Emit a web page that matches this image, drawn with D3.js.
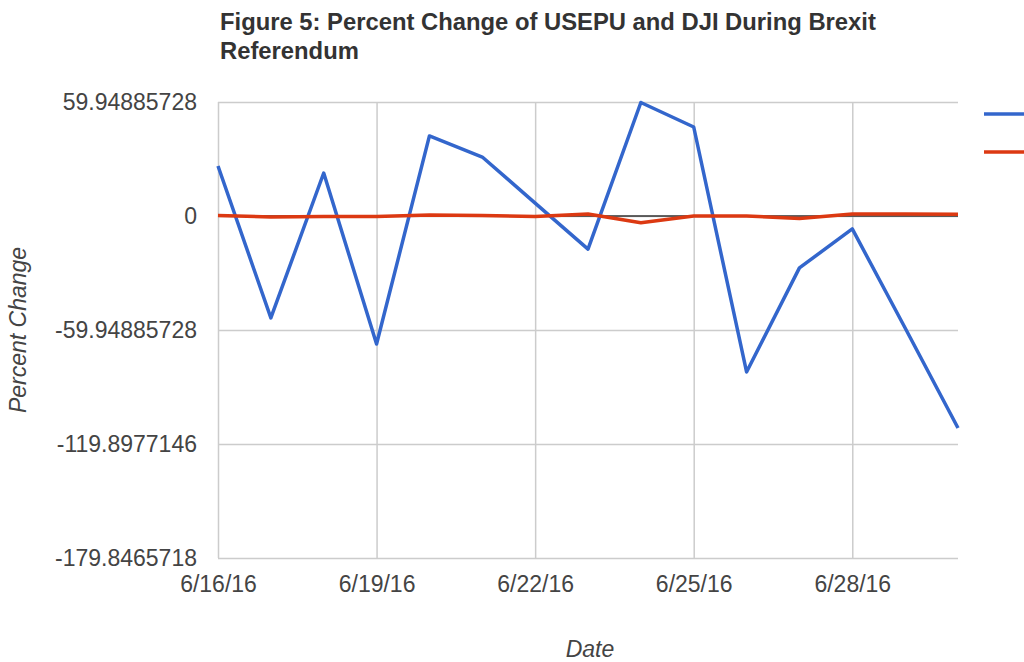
<html lang="en">

<head>
  <meta charset="utf-8">
  <title>Figure 5</title>
  <script type="text/javascript" src="https://d3js.org/d3.v7.min.js"></script>
  <style>
    body { margin: 0; background: #fff; }
    text { font-family: "Liberation Sans", Arial, sans-serif; }
  </style>
</head>

<body>
  <script type="text/javascript">
    const dates = ["6/16/16", "6/17/16", "6/18/16", "6/19/16", "6/20/16", "6/21/16", "6/22/16", "6/23/16",
      "6/24/16", "6/25/16", "6/26/16", "6/27/16", "6/28/16", "6/29/16", "6/30/16"];
    const usepu = [26.3, -53.6, 22.6, -67.3, 42.1, 31.0, 6.8, -17.4, 59.7, 46.8, -82.0, -27.3, -6.8, -58.9, -111.5];
    const dji = [0.3, -0.5, -0.3, -0.3, 0.5, 0.3, -0.3, 1.0, -3.6, 0.0, 0.0, -1.3, 1.0, 1.0, 0.9];
    const yTicks = [59.94885728, 0, -59.94885728, -119.8977146, -179.8465718];
    const xTickLabels = ["6/16/16", "6/19/16", "6/22/16", "6/25/16", "6/28/16"];
    const seriesNames = ["USEPU", "DJI"];
    const colors = ["#3366cc", "#dc3912"];

    const width = 1024;
    const height = 662;
    const plotLeft = 218, plotRight = 958, plotTop = 102, plotBottom = 558;

    const parse = d3.timeParse("%m/%d/%y");
    const svg = d3.select("body").append("svg").attr("width", width).attr("height", height);

    const x = d3.scaleTime()
      .domain([parse(dates[0]), parse(dates[dates.length - 1])])
      .range([plotLeft, plotRight]);
    const y = d3.scaleLinear()
      .domain([yTicks[yTicks.length - 1], yTicks[0]])
      .range([plotBottom, plotTop]);

    // horizontal grid + y labels
    const gY = svg.append("g")
      .attr("transform", `translate(${plotLeft},0)`)
      .call(d3.axisLeft(y).tickValues(yTicks).tickSize(-(plotRight - plotLeft)).tickPadding(21)
        .tickFormat(d => d === 0 ? "0" : String(d)));
    gY.select(".domain").remove();
    gY.selectAll("line").attr("stroke", "#cccccc").attr("stroke-width", 1.5);
    gY.selectAll("text").attr("fill", "#444").style("font-size", "23px");

    // vertical grid + x labels
    const gX = svg.append("g")
      .attr("transform", `translate(0,${plotBottom})`)
      .call(d3.axisBottom(x).tickValues(xTickLabels.map(parse)).tickSize(-(plotBottom - plotTop)).tickPadding(18)
        .tickFormat(d3.timeFormat("%-m/%-d/%y")));
    gX.select(".domain").remove();
    gX.selectAll("line").attr("stroke", "#cccccc").attr("stroke-width", 1.5);
    gX.selectAll("text").attr("fill", "#444").style("font-size", "23px");

    // zero baseline
    svg.append("line")
      .attr("x1", plotLeft).attr("x2", plotRight)
      .attr("y1", y(0)).attr("y2", y(0))
      .attr("stroke", "#333").attr("stroke-width", 1.5);

    const line = d3.line()
      .x((d, i) => x(parse(dates[i])))
      .y(d => y(d));

    [usepu, dji].forEach((s, k) => {
      svg.append("path")
        .datum(s)
        .attr("fill", "none")
        .attr("stroke", colors[k])
        .attr("stroke-width", 3.5)
        .attr("stroke-linejoin", "round")
        .attr("d", line);
    });

    // legend keys; the series names sit past the right edge of the page, as in the original
    seriesNames.forEach((name, k) => {
      const ly = 114 + k * 38;
      svg.append("line")
        .attr("class", "legend-" + name)
        .attr("x1", 984).attr("x2", 1030)
        .attr("y1", ly).attr("y2", ly)
        .attr("stroke", colors[k]).attr("stroke-width", 3.5);
    });

    // title
    const title = svg.append("text")
      .attr("x", 220).attr("y", 30)
      .attr("fill", "#333").style("font-size", "23.8px").style("font-weight", "bold");
    title.append("tspan").attr("x", 220).attr("dy", 0).text("Figure 5: Percent Change of USEPU and DJI During Brexit");
    title.append("tspan").attr("x", 220).attr("dy", 29).text("Referendum");

    // axis titles
    svg.append("text")
      .attr("x", 590).attr("y", 657)
      .attr("text-anchor", "middle")
      .attr("fill", "#444").style("font-size", "23px").style("font-style", "italic")
      .text("Date");
    svg.append("text")
      .attr("transform", `translate(26,${(plotTop + plotBottom) / 2}) rotate(-90)`)
      .attr("text-anchor", "middle")
      .attr("fill", "#444").style("font-size", "23px").style("font-style", "italic")
      .text("Percent Change");
  </script>
</body>

</html>
